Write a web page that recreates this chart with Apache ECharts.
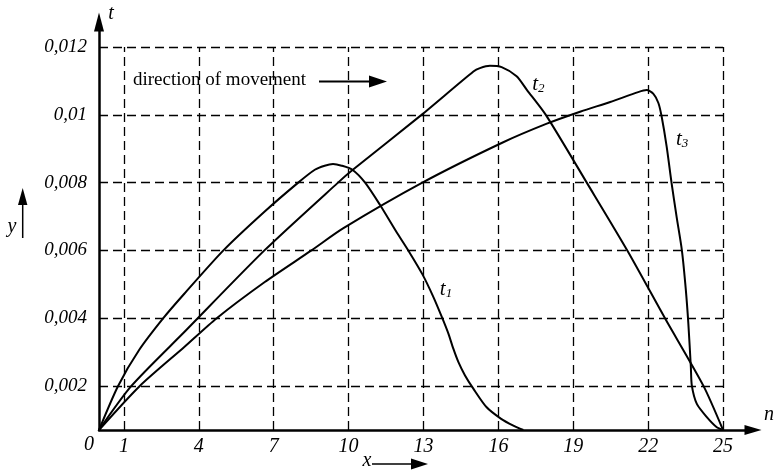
<!DOCTYPE html>
<html>

<head>
    <meta charset="utf-8">
    <title>t(n)</title>
    <script src="https://cdn.jsdelivr.net/npm/echarts@6/dist/echarts.min.js"></script>
</head>

<body style="margin:0">
    <div id="main" style="width: 774px;height:473px;"></div>
</body>
<script type="text/javascript">
    // tick values of the two axes
    var xTicks = [1, 4, 7, 10, 13, 16, 19, 22, 25];
    var yTicks = [0.002, 0.004, 0.006, 0.008, 0.01, 0.012];

    // curves, [n, t] (0.0007 = level of the n axis)
    var t1 = [
        [0, 0.0007], [0.765, 0.002], [1.607, 0.00306], [2.576, 0.004], [3.417, 0.00472],
        [4.984, 0.006], [6.627, 0.00714], [7.98, 0.008], [8.646, 0.00838], [9.04, 0.0085],
        [9.375, 0.00855], [9.724, 0.0085], [10.15, 0.00838], [10.66, 0.008], [11.26, 0.00734],
        [11.93, 0.00653], [12.39, 0.006], [12.953, 0.0053], [13.393, 0.00463], [13.754, 0.004],
        [13.994, 0.00355], [14.195, 0.0031], [14.395, 0.00271], [14.663, 0.00231], [14.996, 0.00192],
        [15.53, 0.00137], [16.11, 0.00103], [16.6, 0.00083], [17.0, 0.0007]
    ];
    var t2 = [
        [0, 0.0007], [1.298, 0.002], [3.417, 0.00359], [6.627, 0.006], [9.575, 0.008],
        [10.156, 0.00837], [12.92, 0.01], [15.0, 0.01128], [15.26, 0.01138], [15.66, 0.01145],
        [16.13, 0.01141], [16.73, 0.01114], [17.14, 0.01074], [17.9, 0.01], [19.54, 0.008],
        [21.17, 0.00599], [22.68, 0.00399], [24.21, 0.00201], [25, 0.0007]
    ];
    var t3 = [
        [0, 0.0007], [1.635, 0.002], [3.417, 0.00315], [4.716, 0.004], [6.627, 0.00506],
        [8.51, 0.006], [9.776, 0.00665], [12.953, 0.008], [16.13, 0.00917], [17.94, 0.00974],
        [19.3, 0.0101], [20.48, 0.01038], [21.6, 0.01067], [21.94, 0.01073], [22.21, 0.01062],
        [22.41, 0.01035], [22.54, 0.00995], [22.74, 0.00907], [22.94, 0.00798], [23.14, 0.00699],
        [23.35, 0.00601], [23.51, 0.00483], [23.61, 0.00384], [23.71, 0.00256], [23.75, 0.00201],
        [23.95, 0.00147], [24.35, 0.00108], [24.75, 0.00078], [25, 0.0007]
    ];

    // where the t1, t2, t3 captions sit
    var labelAt = {
        '1': [13.9, 0.00485],
        '2': [17.6, 0.01089],
        '3': [23.36, 0.00926]
    };

    var serif = 'Liberation Serif';

    // dashed grid: horizontal from n=0 to 25, vertical from the axis up to 0.012
    var gridLines = [];
    yTicks.forEach(function(v) {
        gridLines.push([{ coord: [0, v] }, { coord: [25, v] }]);
    });
    xTicks.forEach(function(v) {
        gridLines.push([{ coord: [v, 0.0007] }, { coord: [v, 0.012] }]);
    });

    function curve(name, data) {
        return {
            type: 'line',
            name: 't' + name,
            data: data,
            showSymbol: false,
            smooth: 0.25,
            clip: false,
            lineStyle: { color: '#000', width: 2 },
            markPoint: {
                symbol: 'circle',
                symbolSize: 0,
                silent: true,
                data: [{ coord: labelAt[name] }],
                label: {
                    show: true,
                    position: 'inside',
                    formatter: '{t|t}{s|' + name + '}',
                    rich: {
                        t: { fontFamily: serif, fontStyle: 'italic', fontSize: 21, color: '#000', verticalAlign: 'bottom' },
                        s: { fontFamily: serif, fontStyle: 'italic', fontSize: 13, color: '#000', verticalAlign: 'bottom' }
                    }
                }
            }
        };
    }

    var series = [curve('1', t1), curve('2', t2), curve('3', t3)];
    series[0].markLine = {
        silent: true,
        symbol: ['none', 'none'],
        label: { show: false },
        lineStyle: { color: '#000', width: 1.3, type: [9, 5] },
        data: gridLines
    };

    var chart = echarts.init(document.getElementById('main'));
    chart.setOption({
        animation: false,
        backgroundColor: '#fff',
        grid: { left: 99, right: 21, top: 22, bottom: 43 },
        xAxis: {
            type: 'value',
            min: 0,
            max: 26.2,
            axisLine: {
                onZero: false,
                lineStyle: { color: '#000', width: 2.5 },
                symbol: ['none', 'triangle'],
                symbolSize: [10, 17]
            },
            axisTick: { show: false },
            splitLine: { show: false },
            axisLabel: {
                customValues: xTicks,
                fontFamily: serif,
                fontStyle: 'italic',
                fontSize: 20,
                color: '#000',
                margin: 7
            }
        },
        yAxis: {
            type: 'value',
            min: 0.0007,
            max: 0.01274,
            axisLine: {
                show: true,
                onZero: false,
                lineStyle: { color: '#000', width: 2.5 },
                symbol: ['none', 'triangle'],
                symbolSize: [10, 19]
            },
            axisTick: { show: false },
            splitLine: { show: false },
            axisLabel: {
                customValues: yTicks,
                formatter: function(v) {
                    return String(v).replace('.', ',');
                },
                fontFamily: serif,
                fontStyle: 'italic',
                fontSize: 19,
                color: '#000',
                margin: 12
            }
        },
        graphic: [
            // axis letters
            { type: 'text', x: 111, y: 14, style: { text: 't', font: 'italic 20px ' + serif, fill: '#000', align: 'center', verticalAlign: 'middle' } },
            { type: 'text', x: 769, y: 415, style: { text: 'n', font: 'italic 20px ' + serif, fill: '#000', align: 'center', verticalAlign: 'middle' } },
            { type: 'text', x: 89, y: 445, style: { text: '0', font: 'italic 20px ' + serif, fill: '#000', align: 'center', verticalAlign: 'middle' } },
            // x with arrow below the axis
            { type: 'text', x: 367, y: 461, style: { text: 'x', font: 'italic 20px ' + serif, fill: '#000', align: 'center', verticalAlign: 'middle' } },
            { type: 'line', shape: { x1: 372, y1: 464, x2: 414, y2: 464 }, style: { stroke: '#000', lineWidth: 1.5 } },
            { type: 'polygon', shape: { points: [[411, 458.5], [428, 464], [411, 469.5]] }, style: { fill: '#000' } },
            // y with arrow at the left
            { type: 'text', x: 12, y: 227, style: { text: 'y', font: 'italic 20px ' + serif, fill: '#000', align: 'center', verticalAlign: 'middle' } },
            { type: 'line', shape: { x1: 22.7, y1: 238, x2: 22.7, y2: 202 }, style: { stroke: '#000', lineWidth: 1.5 } },
            { type: 'polygon', shape: { points: [[18, 205], [22.7, 188], [27.4, 205]] }, style: { fill: '#000' } },
            // direction of movement
            { type: 'text', x: 133, y: 80.5, style: { text: 'direction of movement', font: '19px ' + serif, fill: '#000', verticalAlign: 'middle' } },
            { type: 'line', shape: { x1: 319, y1: 81.5, x2: 372, y2: 81.5 }, style: { stroke: '#000', lineWidth: 2 } },
            { type: 'polygon', shape: { points: [[369, 75.5], [387, 81.5], [369, 87.5]] }, style: { fill: '#000' } }
        ],
        series: series
    });
</script>

</html>
